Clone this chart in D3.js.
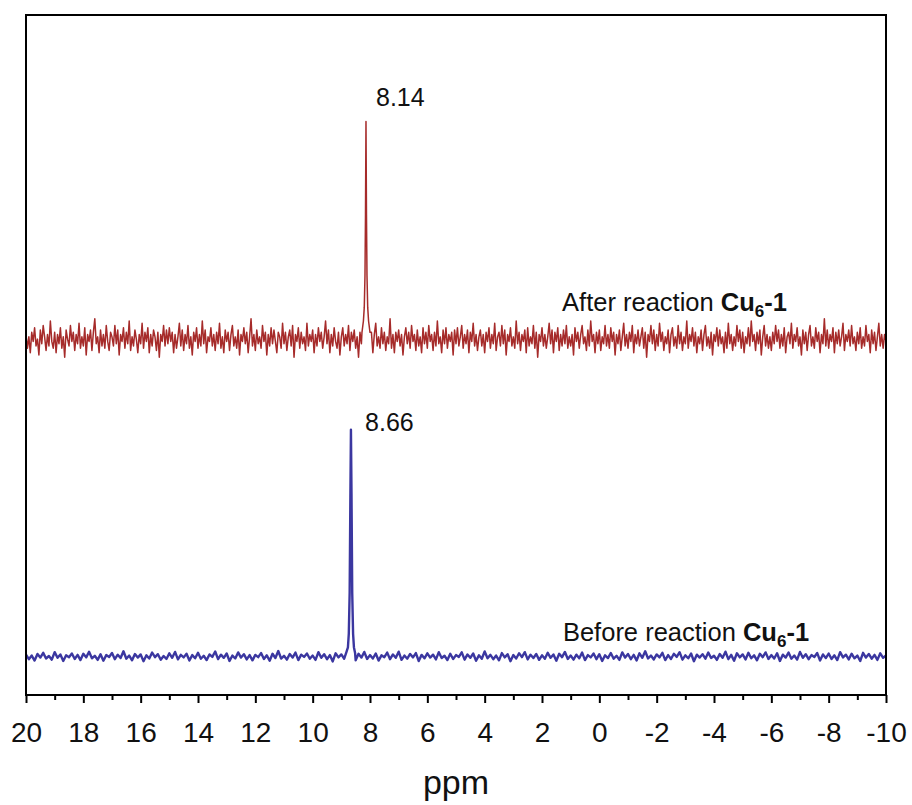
<!DOCTYPE html>
<meta charset="utf-8">
<style>
    body { margin: 0; background: #fff; }
    text { font-family: "Liberation Sans", Arial, Helvetica, sans-serif; fill: #111; }
    .axis text { font-size: 28px; }
    .axis path { display: none; }
    .axis line { stroke: #000; stroke-width: 2; }
</style>

<body>
    <svg width="912" height="805"></svg>
    <script src="https://d3js.org/d3.v7.min.js"></script>
    <script>
        // ppm axis, noise sampled on a regular grid
        var ppmStart = 20, ppmEnd = -10;
        var redStep = 0.05, blueStep = 0.1;

        var seriesNames = ["After reaction", "Before reaction"];
        var seriesColors = ["#a62b2a", "#3b37a0"];
        var seriesOffsets = [157, 17];

        // peak points (ppm, intensity)
        var redPeakPpm = [8.28, 8.23, 8.20, 8.175, 8.157, 8.14, 8.123, 8.105, 8.08, 8.05, 8.0];
        var redPeakVal = [3, 8, 14, 28, 55, 96, 55, 28, 14, 8, 3];
        var bluePeakPpm = [8.82, 8.77, 8.74, 8.71, 8.685, 8.665, 8.645, 8.62, 8.59, 8.56, 8.52];
        var bluePeakVal = [2, 4, 10, 28, 70, 100, 72, 28, 10, 4, 1.5];
        var peakLabels = ["8.14", "8.66"];
        var peakLabelPpm = [8.14, 8.66];

        // baseline noise, after reaction (20 -> -10 ppm, step 0.05)
        var redNoise = [
            2,-4,1,-6,3,-1,5,-3,0,-7,4,-2,6,1,-5,2,-3,8,-1,-4,
            3,-6,2,-2,5,-4,1,-8,4,0,-3,6,-1,3,-5,2,-2,7,-4,1,
            -3,5,-7,2,-1,4,-5,3,9,-2,1,-6,4,-3,2,-4,6,-1,-5,3,
            1,-3,6,-2,4,-7,2,-1,5,-4,3,-2,8,-5,1,-3,4,0,-6,2,
            -2,7,-4,3,-1,5,-6,2,-3,4,1,-5,3,-8,2,-1,6,-3,4,-2,
            5,-1,3,-6,2,-4,1,7,-3,4,-5,2,-2,6,-4,1,-7,3,-1,5,
            -4,2,-3,8,-2,4,-6,1,-1,5,-3,2,-5,3,-2,7,-4,1,-6,4,
            -1,3,-5,2,6,-3,1,-4,4,-7,2,-1,5,-2,3,-6,1,9,-3,2,
            -5,4,-2,1,-4,6,-1,3,-7,2,-3,5,-2,4,-1,-6,3,1,-4,7,
            -2,3,-5,1,4,-3,6,-8,2,-1,5,-4,3,-2,1,-5,7,-3,2,-1,
            4,-6,2,-3,5,-1,3,-4,1,8,-2,4,-6,2,-3,5,-1,-4,3,-7,
            1,5,-3,2,-2,6,-5,3,-1,4,-4,1,-8,3,-2,6,-3,2,-5,4,
            -1,3,-6,2,7,-3,1,-4,5,-2,3,-5,1,-2,9,-4,2,-6,3,-1,
            4,-3,2,-7,1,5,-2,3,-4,6,-1,2,-5,4,-3,1,-6,5,-2,3,
            -4,6,-1,2,-5,3,-3,8,-2,1,-6,4,-2,5,-4,2,-1,3,-7,4,
            -2,5,-3,1,6,-4,2,-2,4,-6,3,-1,7,-3,2,-5,1,4,-3,2,
            -6,3,-1,5,-4,2,-2,7,-5,1,3,-3,6,-2,4,-7,2,-1,5,-3,
            1,-4,8,-2,3,-5,2,-1,4,-6,5,-3,1,-2,6,-4,3,-8,2,-1,
            5,-3,2,-4,1,7,-2,4,-6,3,-1,5,-5,2,-3,4,-2,6,-4,1,
            -3,2,-7,5,-1,3,-4,2,6,-2,1,-5,4,-3,8,-1,2,-6,3,-2,
            4,-5,1,-2,6,-3,2,-4,5,-1,3,-7,2,-2,4,-5,1,7,-3,2,
            -4,3,-1,6,-6,2,-2,4,-3,1,5,-4,3,-8,2,-1,6,-2,4,-5,
            2,-3,7,-1,3,-5,1,-2,4,-6,2,5,-3,1,-4,6,-2,3,-5,1,
            -2,8,-4,2,-1,5,-3,3,-6,1,-2,4,-5,2,6,-3,1,-4,3,-7,
            2,-1,5,-3,4,-2,1,-6,3,-4,7,-2,2,-5,1,-3,6,-1,4,-4,
            3,-6,1,-2,5,-3,8,-1,2,-5,3,-2,4,-7,1,6,-3,2,-4,1,
            -5,3,-2,6,-1,4,-4,2,-3,5,-6,1,3,-2,7,-4,2,-1,5,-3,
            1,-7,4,-2,3,-5,2,6,-3,1,-4,5,-1,3,-6,2,-2,9,-3,4,
            -4,2,-1,5,-6,3,-2,4,-3,1,7,-5,2,-1,4,-3,6,-2,1,-5,
            3,-2,5,-4,1,-3,6,-1,2,-6,4,-2,3,-5,1,7,-3,2,-4,2,
            -1
        ];

        // baseline noise, before reaction (20 -> -10 ppm, step 0.1)
        var blueNoise = [
            0.8,-1.2,0.4,-1.8,1.1,-0.5,1.6,-0.9,0.2,-1.4,1.9,-0.6,0.9,-2.0,0.5,-0.3,1.3,-1.1,0.7,-1.6,
            1.2,-0.4,2.1,-0.8,0.3,-1.5,1.0,-1.9,0.6,-0.2,1.5,-1.2,0.8,-0.7,2.3,-1.0,0.4,-1.7,1.1,-0.5,
            0.9,-2.1,0.5,-0.9,1.7,-0.3,1.0,-1.4,0.2,-1.1,1.4,-0.6,2.0,-1.3,0.7,-0.4,1.2,-1.8,0.6,-0.8,
            1.6,-1.0,0.3,-1.6,0.9,-0.2,2.2,-1.2,0.8,-0.6,1.3,-2.0,0.4,-0.9,1.8,-0.5,1.0,-1.3,0.6,-1.7,
            0.7,-0.3,1.5,-1.1,0.5,-1.9,1.2,-0.7,2.4,-0.9,0.3,-1.4,1.1,-0.5,1.7,-1.6,0.8,-0.2,1.3,-1.0,
            0.4,-1.5,1.9,-0.6,1.0,-1.2,0.6,-2.2,1.4,-0.4,0.9,-1.0,1.6,-0.8,0.2,-1.7,1.2,-0.5,2.0,-1.1,
            0.6,-0.9,1.3,-1.8,0.5,-0.3,1.7,-1.2,0.9,-0.6,2.1,-1.5,0.4,-1.0,1.1,-0.4,1.5,-2.0,0.7,-0.8,
            1.4,-0.5,0.8,-1.3,1.9,-0.7,0.3,-1.6,1.2,-1.1,0.6,-0.2,1.8,-1.4,0.9,-0.6,1.3,-1.9,0.5,-1.0,
            2.2,-0.8,0.7,-1.2,0.4,-1.7,1.5,-0.4,1.0,-2.1,0.6,-0.9,1.4,-0.3,1.9,-1.3,0.8,-0.7,1.1,-1.5,
            0.5,-1.0,1.6,-0.6,0.9,-1.9,1.2,-0.3,2.0,-1.1,0.4,-1.4,0.8,-0.8,1.7,-1.6,0.6,-0.4,1.3,-1.2,
            1.0,-2.0,0.5,-0.7,1.5,-1.0,0.3,-1.5,1.8,-0.5,1.1,-1.2,0.7,-1.8,1.4,-0.6,2.3,-0.9,0.4,-1.3,
            0.9,-0.4,1.6,-1.6,0.6,-1.1,1.2,-0.2,1.9,-1.4,0.5,-0.8,1.3,-2.1,0.8,-0.5,1.0,-1.0,1.7,-0.7,
            0.3,-1.5,1.1,-0.6,2.1,-1.2,0.7,-1.9,1.4,-0.4,0.9,-1.3,1.6,-0.8,0.5,-1.7,1.2,-0.3,1.8,-1.1,
            0.6,-0.9,1.4,-2.0,0.8,-0.5,1.7,-1.0,0.4,-1.4,2.0,-0.6,1.0,-1.2,0.6,-0.2,1.5,-1.8,0.9,-0.7,
            1.3,-1.1,0.5,-1.6,1.9,-0.4,0.8,-1.3,1.2,-0.8,0.4,-2.0,1.6,-0.5,1.1,-1.0,0.7,-1.5,1.4,-0.6,
            0.5
        ];

        var majorTicks = [20, 18, 16, 14, 12, 10, 8, 6, 4, 2, 0, -2, -4, -6, -8, -10];
        var minorTicks = [19, 17, 15, 13, 11, 9, 7, 5, 3, 1, -1, -3, -5, -7, -9];

        var svg = d3.select("svg"),
            margin = { top: 15, right: 26, bottom: 110, left: 26 },
            width = +svg.attr("width") - margin.left - margin.right,
            height = +svg.attr("height") - margin.top - margin.bottom;

        var x = d3.scaleLinear().domain([ppmStart, ppmEnd]).range([0, width]);
        var y = d3.scaleLinear().domain([0, 300]).range([height, 0]);

        // merge grid noise with the peak points
        function buildSeries(noise, step, peakPpm, peakVal) {
            var lo = d3.min(peakPpm), hi = d3.max(peakPpm);
            var pts = [];
            noise.forEach(function (v, i) {
                var p = ppmStart - i * step;
                if (p < lo - 1e-6 || p > hi + 1e-6) pts.push({ ppm: p, val: v });
            });
            peakPpm.forEach(function (p, i) { pts.push({ ppm: p, val: peakVal[i] }); });
            pts.sort(function (a, b) { return b.ppm - a.ppm; });
            return pts;
        }

        var series = [
            buildSeries(redNoise, redStep, redPeakPpm, redPeakVal),
            buildSeries(blueNoise, blueStep, bluePeakPpm, bluePeakVal)
        ];

        var g = svg.append("g")
            .attr("transform", "translate(" + margin.left + "," + margin.top + ")");

        series.forEach(function (data, k) {
            var line = d3.line()
                .x(function (d) { return x(d.ppm); })
                .y(function (d) { return y(d.val + seriesOffsets[k]); });
            g.append("path")
                .datum(data)
                .attr("fill", "none")
                .attr("stroke", seriesColors[k])
                .attr("stroke-width", k == 0 ? 1.5 : 2.4)
                .attr("stroke-linejoin", "round")
                .attr("d", line);
        });

        // peak labels
        var peakTops = [d3.max(redPeakVal) + seriesOffsets[0], d3.max(bluePeakVal) + seriesOffsets[1]];
        var labelDx = [10, 14], labelDy = [-16, 1];
        peakLabels.forEach(function (t, k) {
            g.append("text")
                .attr("x", x(peakLabelPpm[k]) + labelDx[k])
                .attr("y", y(peakTops[k]) + labelDy[k])
                .style("font-size", "25px")
                .text(t);
        });

        // series labels
        var seriesLabelPpm = [1.3, 1.27];
        var seriesLabelDy = [-28, -15];
        seriesNames.forEach(function (name, k) {
            var t = g.append("text")
                .attr("x", x(seriesLabelPpm[k]))
                .attr("y", y(seriesOffsets[k]) + seriesLabelDy[k])
                .style("font-size", "25.5px");
            t.append("tspan").text(name + " ");
            t.append("tspan").style("font-weight", "bold").text("Cu");
            t.append("tspan").style("font-weight", "bold").style("font-size", "17px")
                .attr("dy", 6).text("6");
            t.append("tspan").style("font-weight", "bold").attr("dy", -6).text("-1");
        });

        // frame
        g.append("rect")
            .attr("width", width)
            .attr("height", height)
            .attr("fill", "none")
            .attr("stroke", "#000")
            .attr("stroke-width", 2);

        g.append("g")
            .attr("class", "axis")
            .attr("transform", "translate(0," + height + ")")
            .call(d3.axisBottom(x).tickValues(majorTicks).tickSize(8).tickPadding(19)
                .tickFormat(function (d) { return d; }));

        g.append("g")
            .attr("class", "axis")
            .attr("transform", "translate(0," + height + ")")
            .call(d3.axisBottom(x).tickValues(minorTicks).tickSize(5).tickFormat(""));

        g.append("text")
            .attr("x", width / 2)
            .attr("y", height + 99)
            .attr("text-anchor", "middle")
            .style("font-size", "34px")
            .text("ppm");
    </script>
</body>
